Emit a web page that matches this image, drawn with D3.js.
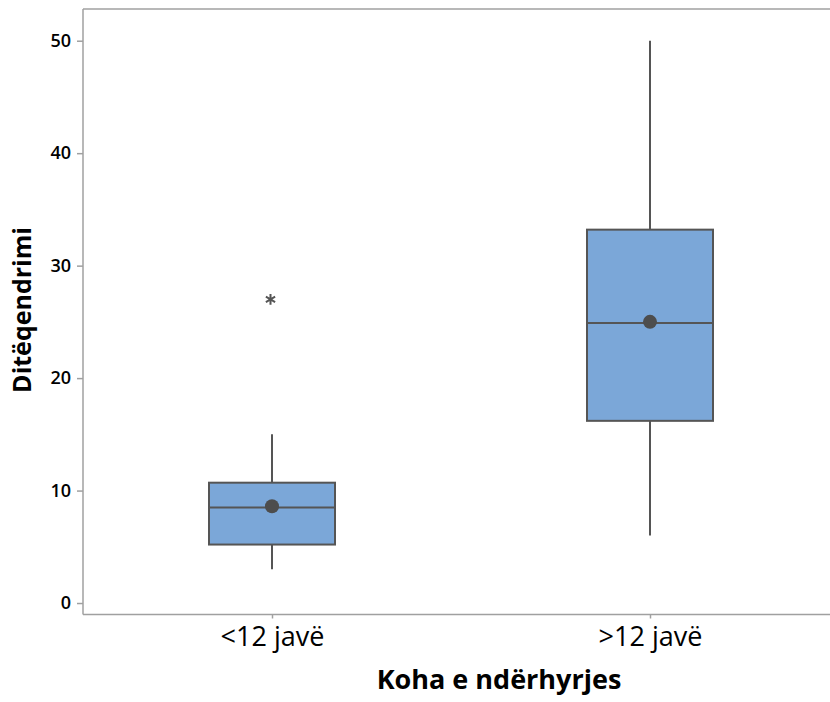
<!DOCTYPE html>
<html>
<head>
<meta charset="utf-8">
<script src="https://cdn.jsdelivr.net/npm/d3@7"></script>
<style>
  body { margin: 0; background: #fff; }
  text { font-family: "Open Sans", "Noto Sans", sans-serif; }
</style>
</head>
<body>
<script>
  // Box plot summary values
  const categories = ['<12 javë', '>12 javë'];
  const whiskerLow = [3, 6];
  const q1 = [5.2, 16.2];
  const median = [8.5, 24.9];
  const q3 = [10.7, 33.2];
  const whiskerHigh = [15, 50];
  const means = [8.6, 25.0];
  const outliers = [[27], []];
  const yTicks = [0, 10, 20, 30, 40, 50];

  const margin = {top: 9, left: 83};
  const plotRight = 839;   // frame runs past the window edge
  const plotBottom = 614.5;
  const boxWidth = 126;

  const svg = d3.select('body').append('svg')
    .attr('width', 830)
    .attr('height', 702);

  const x = d3.scalePoint()
    .domain(categories)
    .range([margin.left, plotRight])
    .padding(0.5);

  const y = d3.scaleLinear()
    .domain([-1.02, 52.82])
    .range([plotBottom, margin.top]);

  const data = categories.map((c, i) => ({
    cat: c, lo: whiskerLow[i], q1: q1[i], med: median[i], q3: q3[i],
    hi: whiskerHigh[i], mean: means[i], out: outliers[i]
  }));

  // frame (top border)
  svg.append('line')
    .attr('x1', margin.left).attr('x2', plotRight)
    .attr('y1', margin.top).attr('y2', margin.top)
    .attr('stroke', '#a0a0a0').attr('stroke-width', 1.5);

  // y axis
  const yAxis = svg.append('g')
    .attr('transform', `translate(${margin.left},0)`)
    .call(d3.axisLeft(y).tickValues(yTicks).tickSize(6).tickPadding(6));
  yAxis.select('.domain').remove();
  yAxis.append('line')
    .attr('x1', 0).attr('x2', 0)
    .attr('y1', margin.top).attr('y2', plotBottom)
    .attr('stroke', '#a0a0a0').attr('stroke-width', 1.5);
  yAxis.selectAll('.tick line').attr('stroke', '#a0a0a0').attr('stroke-width', 1.5);
  yAxis.selectAll('.tick text')
    .attr('fill', '#000')
    .style('font-size', '18px')
    .style('font-weight', '600')
    .style('font-family', '"Open Sans", sans-serif');

  // x axis
  const xAxis = svg.append('g')
    .attr('transform', `translate(0,${plotBottom})`)
    .call(d3.axisBottom(x).tickSize(4).tickPadding(8));
  xAxis.select('.domain').remove();
  xAxis.append('line')
    .attr('x1', margin.left).attr('x2', plotRight)
    .attr('stroke', '#a0a0a0').attr('stroke-width', 1.5);
  xAxis.selectAll('.tick line').attr('stroke', '#a0a0a0').attr('stroke-width', 1.5);
  xAxis.selectAll('.tick text')
    .attr('fill', '#000')
    .style('font-size', '27px')
    .style('font-family', '"Open Sans", sans-serif');

  // boxes
  const g = svg.append('g');
  const box = g.selectAll('g.box').data(data).enter().append('g').attr('class', 'box');

  box.append('line')
    .attr('x1', d => x(d.cat)).attr('x2', d => x(d.cat))
    .attr('y1', d => y(d.q3)).attr('y2', d => y(d.hi))
    .attr('stroke', '#555').attr('stroke-width', 2);
  box.append('line')
    .attr('x1', d => x(d.cat)).attr('x2', d => x(d.cat))
    .attr('y1', d => y(d.q1)).attr('y2', d => y(d.lo))
    .attr('stroke', '#555').attr('stroke-width', 2);

  box.append('rect')
    .attr('x', d => x(d.cat) - boxWidth / 2)
    .attr('width', boxWidth)
    .attr('y', d => y(d.q3))
    .attr('height', d => y(d.q1) - y(d.q3))
    .attr('fill', '#7ba7d8')
    .attr('stroke', '#555').attr('stroke-width', 2);

  box.append('line')
    .attr('x1', d => x(d.cat) - boxWidth / 2).attr('x2', d => x(d.cat) + boxWidth / 2)
    .attr('y1', d => y(d.med)).attr('y2', d => y(d.med))
    .attr('stroke', '#555').attr('stroke-width', 2);

  box.append('circle')
    .attr('cx', d => x(d.cat))
    .attr('cy', d => y(d.mean))
    .attr('r', 7)
    .attr('fill', '#4d4d4d');

  // outliers
  box.selectAll('path.out').data(d => d.out.map(v => ({cat: d.cat, v: v})))
    .enter().append('path')
    .attr('class', 'out')
    .attr('transform', d => `translate(${x(d.cat) - 1.5},${y(d.v)})`)
    .attr('d', d3.symbol(d3.symbolAsterisk, 80))
    .attr('fill', 'none')
    .attr('stroke', '#555')
    .attr('stroke-width', 2);

  // axis titles
  svg.append('text')
    .attr('x', 499).attr('y', 689)
    .attr('text-anchor', 'middle')
    .style('font-size', '27px').style('font-weight', 'bold')
    .text('Koha e ndërhyrjes');

  svg.append('text')
    .attr('transform', 'translate(31,310) rotate(-90)')
    .attr('text-anchor', 'middle')
    .style('font-size', '25px').style('font-weight', 'bold')
    .text('Ditëqendrimi');
</script>
</body>
</html>
